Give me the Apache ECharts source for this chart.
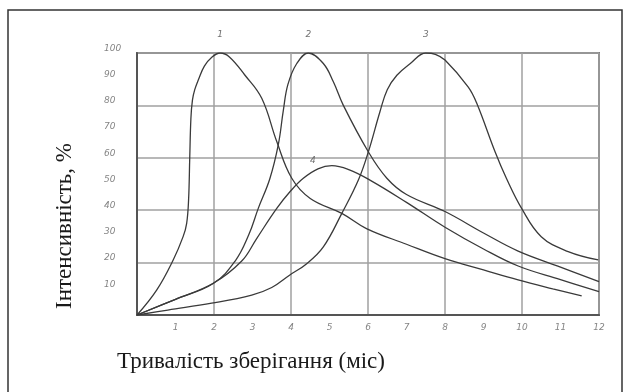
<!DOCTYPE html>
<html>
<head>
    <meta charset="utf-8">
    <title>Інтенсивність</title>
    <script src="https://cdn.jsdelivr.net/npm/echarts@6/dist/echarts.min.js"></script>
    <style>
        * {
            margin: 0;
            padding: 0;
        }
        html, body {
            background: #fff;
        }
        #main {
            width: 631px;
            height: 392px;
        }
    </style>
</head>
<body>
<div id="main"></div>
<script>
    // [month, intensity %]
    var curve1 = [[0,0],[0.51,9.5],[0.94,21],[1.2,30],[1.29,35],[1.34,44],[1.37,60],[1.4,75],[1.44,82],[1.5,86],[1.6,90],
        [1.75,95],[1.95,98.5],[2.16,100],[2.4,98.5],[2.8,91.6],[3.24,82.7],[3.63,66.2],[4.02,52.2],[4.5,44.5],[5.32,38.8],
        [5.96,33],[7,27],[8,21.5],[9,17.2],[9.9,13.4],[10.8,10],[11.55,7.3]];
    var curve2 = [[0,0],[1,6],[1.98,12],[2.55,20.6],[2.9,30.5],[3.15,40.7],[3.45,52],[3.67,65],[3.8,78],[3.92,88],
        [4.15,96],[4.45,100],[4.84,96],[5.1,89],[5.36,80],[6,62.5],[6.49,52.2],[7,46],[8,39.5],[9,31.3],
        [9.9,24.4],[11,18.3],[12,12.7]];
    var curve3 = [[0,0],[0.8,1.9],[1.94,4.5],[2.98,7.6],[3.5,10.5],[3.97,15.3],[4.4,19.5],[4.84,26],[5.32,38.8],[5.75,51.5],
        [6.01,62.3],[6.31,77.6],[6.5,86],[6.75,91.5],[7.1,96],[7.5,100],[7.75,99.5],[8,97.3],[8.6,87.1],
        [8.82,81],[9.3,62.3],[9.6,52],[9.99,40.7],[10.5,29.9],[11.2,24.2],[11.98,21]];
    var curve4 = [[0,0],[1,6],[1.98,12.1],[2.72,20.6],[3.1,29],[3.63,40.7],[4,47.5],[4.32,52.2],[4.7,55.8],[5.06,57],
        [5.5,55.5],[6.05,51.5],[7,43],[8,33.5],[9,25.2],[9.9,18.7],[11,13.5],[12,8.9]];
    var curveNames = ['1', '2', '3', '4'];
    var xTitle = 'Тривалість зберігання (міс)';
    var yTitle = 'Інтенсивність, %';

    var tickFont = {
        color: '#858585',
        fontSize: 9,
        fontStyle: 'italic',
        fontFamily: 'DejaVu Sans'
    };
    var titleFont = {
        fill: '#1a1a1a',
        fontSize: 23,
        fontFamily: 'Liberation Serif'
    };

    function curve(name, data, offset) {
        return {
            name: name,
            type: 'line',
            data: data,
            smooth: 0.4,
            symbol: 'none',
            lineStyle: {color: '#3a3a3a', width: 1.3},
            markPoint: {
                symbol: 'circle',
                symbolSize: 0,
                data: [{type: 'max'}],
                label: {
                    show: true,
                    position: 'inside',
                    offset: offset,
                    formatter: function (p) { return p.seriesName; },
                    color: '#707070',
                    fontSize: 9,
                    fontStyle: 'italic',
                    fontFamily: 'DejaVu Sans'
                }
            }
        };
    }

    var chart = echarts.init(document.getElementById('main'));
    var option = {
        animation: false,
        backgroundColor: '#fff',
        grid: {
            left: 137,
            right: 32,
            top: 53,
            bottom: 77,
            show: true,
            borderColor: '#7a7a7a',
            borderWidth: 2
        },
        xAxis: [
            {
                type: 'value', min: 0, max: 12, interval: 1,
                axisLine: {show: true, lineStyle: {color: '#555', width: 2}},
                axisTick: {show: false},
                splitLine: {show: false},
                axisLabel: Object.assign({margin: 8, showMinLabel: false, showMaxLabel: true}, tickFont)
            },
            {
                type: 'value', min: 0, max: 12, interval: 2, position: 'bottom',
                axisLine: {show: false}, axisTick: {show: false}, axisLabel: {show: false},
                splitLine: {show: true, lineStyle: {color: '#a0a0a0', width: 1.5}}
            }
        ],
        yAxis: [
            {
                type: 'value', min: 0, max: 100, interval: 10,
                axisLine: {show: true, lineStyle: {color: '#555', width: 2}},
                axisTick: {show: false},
                splitLine: {show: false},
                axisLabel: Object.assign({margin: 33, align: 'left', verticalAlign: 'bottom', showMinLabel: false}, tickFont)
            },
            {
                type: 'value', min: 0, max: 100, interval: 20, position: 'left',
                axisLine: {show: false}, axisTick: {show: false}, axisLabel: {show: false},
                splitLine: {show: true, lineStyle: {color: '#a0a0a0', width: 1.5}}
            }
        ],
        series: [
            curve(curveNames[0], curve1, [0, -18]),
            curve(curveNames[1], curve2, [0, -18]),
            curve(curveNames[2], curve3, [0, -18]),
            curve(curveNames[3], curve4, [-19, -5])
        ],
        graphic: [
            {
                type: 'rect',
                shape: {x: 8, y: 10, width: 614, height: 395},
                style: {fill: 'none', stroke: '#333', lineWidth: 1.5}
            },
            {
                type: 'text',
                x: 65, y: 226,
                rotation: Math.PI / 2,
                style: Object.assign({text: yTitle, align: 'center', verticalAlign: 'middle'}, titleFont)
            },
            {
                type: 'text',
                x: 117, y: 362,
                style: Object.assign({text: xTitle, align: 'left', verticalAlign: 'middle'}, titleFont)
            }
        ]
    };
    chart.setOption(option);
</script>
</body>
</html>
